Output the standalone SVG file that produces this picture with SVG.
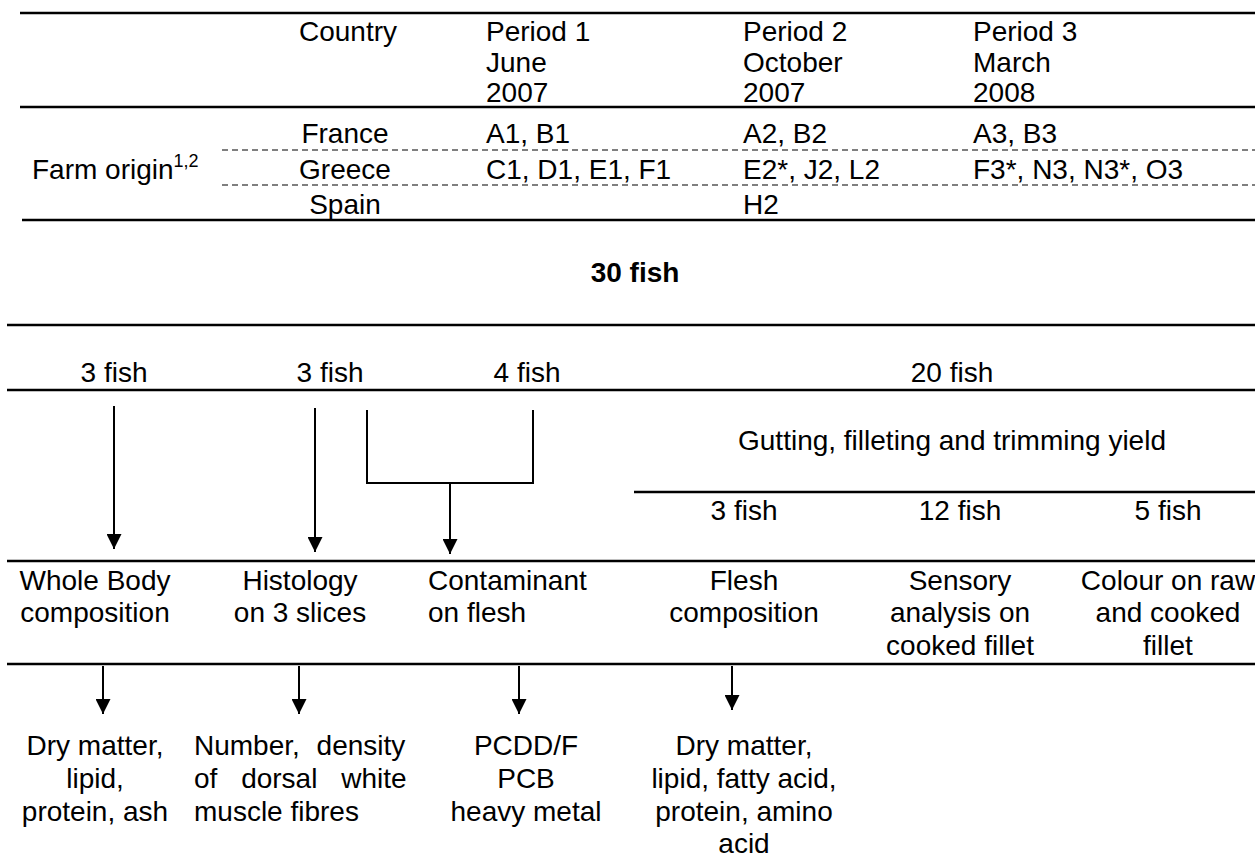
<svg xmlns="http://www.w3.org/2000/svg" width="1255" height="860" viewBox="0 0 1255 860">
<style>
text{font-family:"Liberation Sans",Arial,sans-serif;font-size:28px;fill:#000}
.c{text-anchor:middle}
.b{font-weight:bold}
.rule{stroke:#000;stroke-width:2.6;fill:none}
.dash{stroke:#000;stroke-width:1.2;stroke-dasharray:6 4;fill:none}
.con{stroke:#000;stroke-width:2;fill:none}
.arr{marker-end:url(#ah)}
</style>
<defs>
<marker id="ah" viewBox="0 0 10 10" refX="10" refY="5" markerUnits="userSpaceOnUse" markerWidth="17" markerHeight="15" orient="auto">
<path d="M0,0 L10,5 L0,10 z" fill="#000"/>
</marker>
</defs>
<rect width="1255" height="860" fill="#fff"/>

<g id="table">
<line class="rule" x1="20" y1="13" x2="1255" y2="13"/>
<line class="rule" x1="20" y1="107" x2="1255" y2="107"/>
<line class="dash" x1="222" y1="150" x2="1255" y2="150"/>
<line class="dash" x1="222" y1="185" x2="1255" y2="185"/>
<line class="rule" x1="22" y1="220" x2="1255" y2="220"/>
<text class="c" x="348" y="41">Country</text>
<text x="486" y="41">Period 1</text>
<text x="486" y="72">June</text>
<text x="486" y="102">2007</text>
<text x="743" y="41">Period 2</text>
<text x="743" y="72">October</text>
<text x="743" y="102">2007</text>
<text x="973" y="41">Period 3</text>
<text x="973" y="72">March</text>
<text x="973" y="102">2008</text>
<text x="32" y="179">Farm origin<tspan font-size="18" dy="-12">1,2</tspan></text>
<text class="c" x="345" y="143">France</text>
<text class="c" x="345" y="179">Greece</text>
<text class="c" x="345" y="214">Spain</text>
<text x="486" y="143">A1, B1</text>
<text x="486" y="179">C1, D1, E1, F1</text>
<text x="743" y="143">A2, B2</text>
<text x="743" y="179">E2*, J2, L2</text>
<text x="743" y="214">H2</text>
<text x="973" y="143">A3, B3</text>
<text x="973" y="179">F3*, N3, N3*, O3</text>
</g>

<g id="total">
<text class="c b" x="635" y="282">30 fish</text>
</g>

<g id="rules">
<line class="rule" x1="7" y1="325" x2="1255" y2="325"/>
<line class="rule" x1="7" y1="390" x2="1255" y2="390"/>
<line class="rule" x1="634" y1="492" x2="1255" y2="492"/>
<line class="rule" x1="7" y1="561" x2="1255" y2="561"/>
<line class="rule" x1="7" y1="664" x2="1255" y2="664"/>
</g>

<g id="groups">
<text class="c" x="114" y="382">3 fish</text>
<text class="c" x="330" y="382">3 fish</text>
<text class="c" x="527" y="382">4 fish</text>
<text class="c" x="952" y="382">20 fish</text>
</g>

<g id="yield">
<text class="c" x="952" y="450">Gutting, filleting and trimming yield</text>
<text class="c" x="744" y="520">3 fish</text>
<text class="c" x="960" y="520">12 fish</text>
<text class="c" x="1168" y="520">5 fish</text>
</g>

<g id="wholebody">
<text class="c" x="95" y="590">Whole Body</text>
<text class="c" x="95" y="622">composition</text>
</g>
<g id="histology">
<text class="c" x="300" y="590">Histology</text>
<text class="c" x="300" y="622">on 3 slices</text>
</g>
<g id="contaminant">
<text x="428" y="590">Contaminant</text>
<text x="428" y="622">on flesh</text>
</g>
<g id="flesh">
<text class="c" x="744" y="590">Flesh</text>
<text class="c" x="744" y="622">composition</text>
</g>
<g id="sensory">
<text class="c" x="960" y="590">Sensory</text>
<text class="c" x="960" y="622">analysis on</text>
<text class="c" x="960" y="655">cooked fillet</text>
</g>
<g id="colour">
<text class="c" x="1168" y="590">Colour on raw</text>
<text class="c" x="1168" y="622">and cooked</text>
<text class="c" x="1168" y="655">fillet</text>
</g>

<g id="res-wholebody">
<text class="c" x="95" y="755">Dry matter,</text>
<text class="c" x="95" y="788">lipid,</text>
<text class="c" x="95" y="821">protein, ash</text>
</g>
<g id="res-histology">
<text x="194" y="755" word-spacing="9">Number, density</text>
<text x="194" y="788" word-spacing="16">of dorsal white</text>
<text x="194" y="821">muscle fibres</text>
</g>
<g id="res-contaminant">
<text class="c" x="526" y="755">PCDD/F</text>
<text class="c" x="526" y="788">PCB</text>
<text class="c" x="526" y="821">heavy metal</text>
</g>
<g id="res-flesh">
<text class="c" x="744" y="755">Dry matter,</text>
<text class="c" x="744" y="788">lipid, fatty acid,</text>
<text class="c" x="744" y="821">protein, amino</text>
<text class="c" x="744" y="853">acid</text>
</g>

<g id="connectors">
<line class="con arr" x1="114" y1="406" x2="114" y2="549"/>
<line class="con arr" x1="315" y1="408" x2="315" y2="552"/>
<polyline class="con" points="367,410 367,483 533,483 533,410"/>
<line class="con arr" x1="450" y1="483" x2="450" y2="554"/>
<line class="con arr" x1="103" y1="666" x2="103" y2="714"/>
<line class="con arr" x1="299" y1="666" x2="299" y2="714"/>
<line class="con arr" x1="519" y1="666" x2="519" y2="714"/>
<line class="con arr" x1="732" y1="666" x2="732" y2="710"/>
</g>
</svg>
